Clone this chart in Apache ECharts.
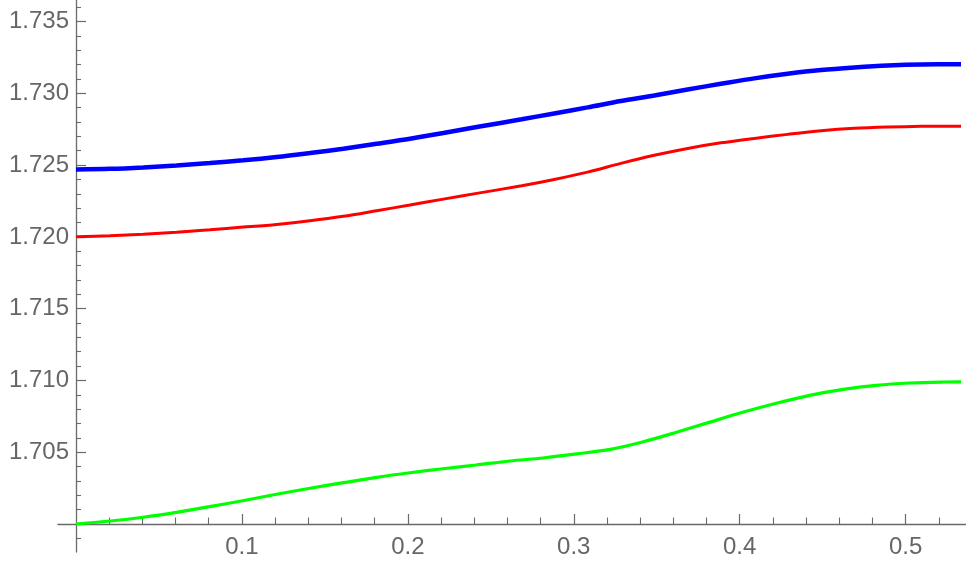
<!DOCTYPE html>
<html>
<head>
<meta charset="utf-8">
<script src="https://cdn.jsdelivr.net/npm/echarts@6/dist/echarts.min.js"></script>
<style>
html,body{margin:0;padding:0;background:#fff;}
#chart{width:966px;height:565px;}
</style>
</head>
<body>
<div id="chart"></div>
<script>
// ---- data ----
const blueX = [0, 0.0204, 0.0405, 0.0606, 0.0807, 0.1008, 0.1209, 0.141, 0.1611, 0.1812, 0.2013, 0.2214, 0.2415, 0.2686, 0.2882, 0.3083, 0.3284, 0.3485, 0.3686, 0.3887, 0.4088, 0.4289, 0.449, 0.4691, 0.4893, 0.5094, 0.5334];
const blueY = [1.72470, 1.72474, 1.72484, 1.72498, 1.72514, 1.72533, 1.72556, 1.72584, 1.72614, 1.72648, 1.72683, 1.72723, 1.72765, 1.72819, 1.72860, 1.72902, 1.72946, 1.72985, 1.73027, 1.73066, 1.73104, 1.73136, 1.73162, 1.73180, 1.73194, 1.73201, 1.73202];

const redX = [0, 0.0204, 0.0405, 0.0606, 0.0807, 0.1008, 0.1209, 0.141, 0.1611, 0.1812, 0.2013, 0.2214, 0.2415, 0.2686, 0.2882, 0.3083, 0.3284, 0.3485, 0.3686, 0.3887, 0.4088, 0.4289, 0.449, 0.4691, 0.4893, 0.5094, 0.5334];
const redY = [1.72001, 1.72008, 1.72019, 1.72033, 1.72050, 1.72068, 1.72087, 1.72112, 1.72143, 1.72182, 1.72222, 1.72263, 1.72303, 1.72356, 1.72400, 1.72451, 1.72512, 1.72568, 1.72616, 1.72655, 1.72686, 1.72714, 1.72739, 1.72756, 1.72765, 1.72770, 1.72771];

const greenX = [0, 0.0209, 0.0405, 0.0605, 0.0805, 0.1004, 0.1208, 0.141, 0.1613, 0.1813, 0.2013, 0.2212, 0.2411, 0.2615, 0.2814, 0.3017, 0.322, 0.342, 0.3619, 0.3816, 0.4018, 0.4221, 0.4421, 0.4624, 0.4823, 0.5026, 0.5226, 0.5334];
const greenY = [1.70000, 1.70021, 1.70047, 1.70081, 1.70121, 1.70162, 1.70207, 1.70249, 1.70288, 1.70325, 1.70357, 1.70385, 1.70411, 1.70439, 1.70460, 1.70488, 1.70520, 1.70573, 1.70639, 1.70708, 1.70778, 1.70841, 1.70896, 1.70938, 1.70966, 1.70982, 1.70989, 1.70990];

// ---- ticks and labels ----
const xMajorTicks = [0.1, 0.2, 0.3, 0.4, 0.5];
const xLabels = [0.1, 0.2, 0.3, 0.4, 0.5];
const xMinorTicks = [0.02, 0.04, 0.06, 0.08, 0.12, 0.14, 0.16, 0.18, 0.22, 0.24, 0.26, 0.28, 0.32, 0.34, 0.36, 0.38, 0.42, 0.44, 0.46, 0.48, 0.52];
const yMajorTicks = [1.705, 1.710, 1.715, 1.720, 1.725, 1.730, 1.735];
const yLabels = [1.705, 1.710, 1.715, 1.720, 1.725, 1.730, 1.735];
const yMinorTicks = [1.699, 1.701, 1.702, 1.703, 1.704, 1.706, 1.707, 1.708, 1.709, 1.711, 1.712, 1.713, 1.714, 1.716, 1.717, 1.718, 1.719, 1.721, 1.722, 1.723, 1.724, 1.726, 1.727, 1.728, 1.729, 1.731, 1.732, 1.733, 1.734, 1.736];

const X_MIN = 0, X_MAX = 0.5364;
const Y_MIN = 1.69805, Y_MAX = 1.7365;

function zip(xs, ys) { return xs.map((x, i) => [x, ys[i]]); }

const axisColor = '#6a6a6a';
const labelColor = '#666666';
const font = 'Liberation Sans';

const chart = echarts.init(document.getElementById('chart'), null, {renderer: 'canvas'});
chart.setOption({
  animation: false,
  backgroundColor: '#ffffff',
  grid: [
    {left: 76, right: 0, top: 0, bottom: 13, containLabel: false, outerBoundsMode: 'none'},
    {left: 58, width: 19, top: 0, bottom: 13, containLabel: false, outerBoundsMode: 'none'}
  ],
  xAxis: [
    {
      type: 'value', gridIndex: 0, min: X_MIN, max: X_MAX, position: 'bottom', offset: -28,
      axisLine: {show: true, onZero: false, lineStyle: {color: axisColor, width: 1.3}},
      axisTick: {show: true, inside: true, length: 10, customValues: xMajorTicks, lineStyle: {color: axisColor, width: 1.2}},
      axisLabel: {show: true, customValues: xLabels, margin: 11, color: labelColor, fontSize: 24, fontFamily: font,
        formatter: v => v.toFixed(1)},
      splitLine: {show: false}, minorTick: {show: false}
    },
    {
      type: 'value', gridIndex: 0, min: X_MIN, max: X_MAX, position: 'bottom', offset: -28,
      axisLine: {show: false, onZero: false},
      axisTick: {show: true, inside: true, length: 6.5, customValues: xMinorTicks, lineStyle: {color: axisColor, width: 1.1}},
      axisLabel: {show: false},
      splitLine: {show: false}
    },
    {
      type: 'value', gridIndex: 1, min: 0, max: 1, position: 'bottom', offset: -28,
      axisLine: {show: true, onZero: false, lineStyle: {color: axisColor, width: 1.3}},
      axisTick: {show: false}, axisLabel: {show: false}, splitLine: {show: false}
    }
  ],
  yAxis: [
    {
      type: 'value', gridIndex: 0, min: Y_MIN, max: Y_MAX, position: 'left',
      axisLine: {show: true, onZero: false, lineStyle: {color: axisColor, width: 1.3}},
      axisTick: {show: true, inside: true, length: 10, customValues: yMajorTicks, lineStyle: {color: axisColor, width: 1.2}},
      axisLabel: {show: true, customValues: yLabels, margin: 7, color: labelColor, fontSize: 24, fontFamily: font,
        formatter: v => v.toFixed(3)},
      splitLine: {show: false}
    },
    {
      type: 'value', gridIndex: 0, min: Y_MIN, max: Y_MAX, position: 'left',
      axisLine: {show: false, onZero: false},
      axisTick: {show: true, inside: true, length: 5, customValues: yMinorTicks, lineStyle: {color: axisColor, width: 1.1}},
      axisLabel: {show: false},
      splitLine: {show: false}
    },
    {
      type: 'value', gridIndex: 1, min: Y_MIN, max: Y_MAX, show: false
    }
  ],
  series: [
    {type: 'line', name: 'green', data: zip(greenX, greenY), xAxisIndex: 0, yAxisIndex: 0,
      showSymbol: false, symbol: 'none', smooth: 0.3,
      lineStyle: {color: '#00ff00', width: 3.2}, z: 3},
    {type: 'line', name: 'red', data: zip(redX, redY), xAxisIndex: 0, yAxisIndex: 0,
      showSymbol: false, symbol: 'none', smooth: 0.3,
      lineStyle: {color: '#ff0000', width: 3}, z: 4},
    {type: 'line', name: 'blue', data: zip(blueX, blueY), xAxisIndex: 0, yAxisIndex: 0,
      showSymbol: false, symbol: 'none', smooth: 0.3,
      lineStyle: {color: '#0000ff', width: 4.5}, z: 5}
  ]
});
</script>
</body>
</html>
